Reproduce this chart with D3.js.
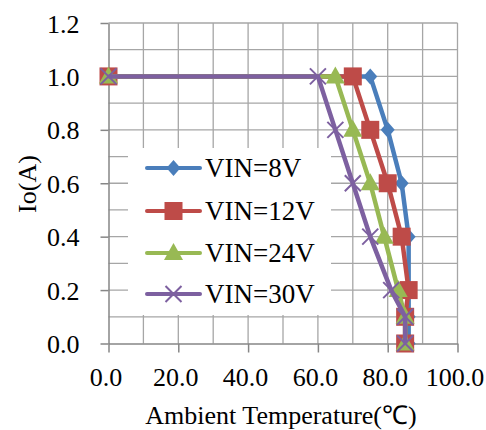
<!DOCTYPE html>
<html><head><meta charset="utf-8">
<script src="https://cdn.jsdelivr.net/npm/d3@7"></script>
<style>body{margin:0;background:#fff}svg{display:block}</style>
</head><body>
<svg id="c" width="486" height="430"></svg>
<script>
const xTicks = [0, 20, 40, 60, 80, 100];
const yTicks = [0, 0.2, 0.4, 0.6, 0.8, 1.0, 1.2];
const seriesNames = ["VIN=8V", "VIN=12V", "VIN=24V", "VIN=30V"];
const temp8V  = [0, 75, 80, 84, 86, 86, 86, 86];
const io8V    = [1.0, 1.0, 0.8, 0.6, 0.4, 0.2, 0.1, 0];
const temp12V = [0, 70, 75, 80, 84, 86, 85, 85];
const io12V   = [1.0, 1.0, 0.8, 0.6, 0.4, 0.2, 0.1, 0];
const temp24V = [0, 65, 70, 75, 79, 83, 85, 85];
const io24V   = [1.0, 1.0, 0.8, 0.6, 0.4, 0.2, 0.1, 0];
const temp30V = [0, 60, 65, 70, 75, 81, 85, 85];
const io30V   = [1.0, 1.0, 0.8, 0.6, 0.4, 0.2, 0.1, 0];

const colors = ["#4a7ebb", "#be4b48", "#98b954", "#7d60a0"];
const markers = ["diamond", "square", "triangle", "x"];
const seriesT = [temp8V, temp12V, temp24V, temp30V];
const seriesI = [io8V, io12V, io24V, io30V];

const svg = d3.select("#c");
const L = 108.5, R = 457.5, T = 23, B = 343.5;
const x = d3.scaleLinear().domain([0, 100]).range([L, R]);
const y = d3.scaleLinear().domain([0, 1.2]).range([B, T]);
const font = '"Times New Roman",Times,serif';

// grid
const g = svg.append("g");
g.selectAll(".gx").data(d3.range(10, 101, 10)).join("line")
  .attr("x1", d => x(d)).attr("x2", d => x(d)).attr("y1", T).attr("y2", B)
  .attr("stroke", "#a6a6a6").attr("stroke-width", 1.3);
g.selectAll(".gy").data(d3.range(1, 13).map(i => i / 10)).join("line")
  .attr("x1", L).attr("x2", R).attr("y1", d => y(d)).attr("y2", d => y(d))
  .attr("stroke", "#a6a6a6").attr("stroke-width", 1.3);

// axes
const xAxis = svg.append("g").attr("transform", `translate(0,${B})`)
  .call(d3.axisBottom(x).tickValues(xTicks).tickSize(9).tickSizeOuter(0).tickFormat(d3.format(".1f")));
const yAxis = svg.append("g").attr("transform", `translate(${L},0)`)
  .call(d3.axisLeft(y).tickValues(yTicks).tickSize(8).tickSizeOuter(0).tickFormat(d3.format(".1f")));
[xAxis, yAxis].forEach(a => {
  a.attr("font-family", null).attr("font-size", null);
  a.select(".domain").attr("stroke", "#868686").attr("stroke-width", 1.5);
  a.selectAll(".tick line").attr("stroke", "#868686").attr("stroke-width", 1.5);
  a.selectAll(".tick text").style("font-family", font).style("font-size", "26px").attr("fill", "#000");
});
xAxis.selectAll(".tick text").attr("dy", null).attr("y", 42).attr("dx", -3);
yAxis.selectAll(".tick text").attr("x", -29).attr("dy", "0.35em");

// titles
svg.append("text").attr("x", 281).attr("y", 424).attr("text-anchor", "middle")
  .style("font-family", font).style("font-size", "26px").text("Ambient Temperature(℃)");
svg.append("text").attr("transform", "translate(36,184) rotate(-90)").attr("text-anchor", "middle")
  .style("font-family", font).style("font-size", "26px").text("Io(A)");

// legend
const leg = svg.append("g");
leg.append("rect").attr("x", 128).attr("y", 148).attr("width", 203).attr("height", 167).attr("fill", "#fff");

function drawMarker(sel, type, color, cx, cy) {
  if (type === "diamond") {
    sel.append("path").attr("d", `M${cx},${cy-8}L${cx+7},${cy}L${cx},${cy+8}L${cx-7},${cy}Z`).attr("fill", color);
  } else if (type === "square") {
    sel.append("rect").attr("x", cx-9).attr("y", cy-9).attr("width", 18).attr("height", 18).attr("fill", color);
  } else if (type === "triangle") {
    sel.append("path").attr("d", `M${cx},${cy-10}L${cx+9.5},${cy+7}L${cx-9.5},${cy+7}Z`).attr("fill", color);
  } else {
    sel.append("path").attr("d", `M${cx-8},${cy-8}L${cx+8},${cy+8}M${cx+8},${cy-8}L${cx-8},${cy+8}`)
      .attr("stroke", color).attr("stroke-width", 2);
  }
}

const legY = [168, 211, 253, 294];
seriesNames.forEach((n, i) => {
  leg.append("line").attr("x1", 147).attr("x2", 200).attr("y1", legY[i]).attr("y2", legY[i])
    .attr("stroke", colors[i]).attr("stroke-width", 4).attr("stroke-linecap", "round");
  drawMarker(leg, markers[i], colors[i], 173.5, legY[i]);
  leg.append("text").attr("x", 205).attr("y", legY[i]).attr("dy", "0.35em")
    .style("font-family", font).style("font-size", "27px").text(n);
});

// series
const line = d3.line().x(d => x(d[0])).y(d => y(d[1]));
seriesNames.forEach((n, i) => {
  const pts = seriesT[i].map((t, k) => [t, seriesI[i][k]]);
  const sg = svg.append("g");
  sg.append("path").attr("d", line(pts)).attr("fill", "none").attr("stroke", colors[i])
    .attr("stroke-width", 4.5).attr("stroke-linejoin", "round");
  pts.forEach(p => drawMarker(sg, markers[i], colors[i], x(p[0]), y(p[1])));
});
</script>
</body></html>
